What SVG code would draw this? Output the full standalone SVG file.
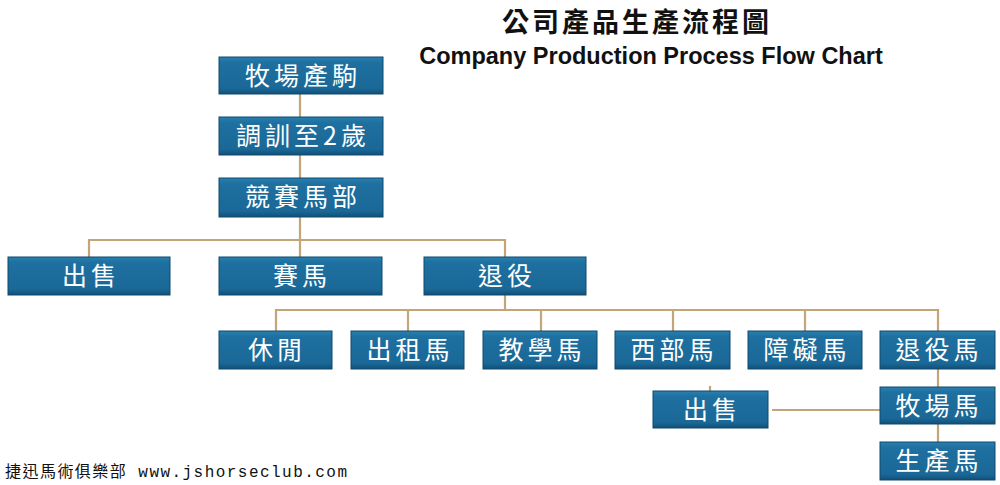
<svg xmlns="http://www.w3.org/2000/svg" width="1000" height="485" viewBox="0 0 1000 485">
<style>
.box{fill:url(#g);stroke:#0f4a6e;stroke-width:1}
.lbl{font-family:"Noto Sans CJK TC","Noto Sans CJK SC",serif;font-size:25px;fill:#ffffff;text-anchor:middle;letter-spacing:4px}
.con{stroke:#c4a57a;stroke-width:2.2;fill:none}
</style>
<defs>
<linearGradient id="g" x1="0" y1="0" x2="0" y2="1">
<stop offset="0" stop-color="#2a80b0"/>
<stop offset="0.15" stop-color="#1e70a0"/>
<stop offset="0.85" stop-color="#1a6897"/>
<stop offset="1" stop-color="#124f78"/>
</linearGradient>
</defs>
<rect width="1000" height="485" fill="#ffffff"/>
<g id="title">
<text x="637" y="32" font-family="Noto Sans CJK TC,Noto Sans CJK SC,sans-serif" font-weight="bold" font-size="27" text-anchor="middle" letter-spacing="3" fill="#111">公司產品生產流程圖</text>
<text x="651" y="64" font-family="Liberation Sans,Arial,sans-serif" font-weight="bold" font-size="23.5" text-anchor="middle" fill="#111">Company Production Process Flow Chart</text>
</g>
<g id="connectors">
<line class="con" x1="300" y1="94" x2="300" y2="117"/>
<line class="con" x1="300" y1="155" x2="300" y2="178"/>
<line class="con" x1="300" y1="217" x2="300" y2="257"/>
<polyline class="con" points="89,257 89,240 505,240 505,257"/>
<line class="con" x1="505" y1="295" x2="505" y2="310"/>
<polyline class="con" points="276,331 276,310 938,310 938,331"/>
<line class="con" x1="408" y1="310" x2="408" y2="331"/>
<line class="con" x1="541" y1="310" x2="541" y2="331"/>
<line class="con" x1="673" y1="310" x2="673" y2="331"/>
<line class="con" x1="805" y1="310" x2="805" y2="331"/>
<line class="con" x1="938" y1="369" x2="938" y2="387"/>
<line class="con" x1="938" y1="424" x2="938" y2="442"/>
<line class="con" x1="772" y1="410" x2="880" y2="410"/>
<line class="con" x1="710" y1="386" x2="710" y2="391" stroke-width="1.2"/>
</g>
<g id="n1"><rect class="box" x="219" y="57" width="164" height="37"/><text class="lbl" x="303" y="85">牧場產駒</text></g>
<g id="n2"><rect class="box" x="219" y="117" width="164" height="38"/><text class="lbl" x="303" y="145">調訓至2歲</text></g>
<g id="n3"><rect class="box" x="219" y="178" width="164" height="39"/><text class="lbl" x="303" y="206">競賽馬部</text></g>
<g id="n4"><rect class="box" x="8" y="257" width="162" height="38"/><text class="lbl" x="91" y="285">出售</text></g>
<g id="n5"><rect class="box" x="219" y="257" width="163" height="38"/><text class="lbl" x="302" y="285">賽馬</text></g>
<g id="n6"><rect class="box" x="424" y="257" width="162" height="38"/><text class="lbl" x="507" y="285">退役</text></g>
<g id="n7"><rect class="box" x="219" y="331" width="113" height="38"/><text class="lbl" x="277" y="359">休閒</text></g>
<g id="n8"><rect class="box" x="351" y="331" width="113" height="38"/><text class="lbl" x="410" y="359">出租馬</text></g>
<g id="n9"><rect class="box" x="483" y="331" width="114" height="38"/><text class="lbl" x="542" y="359">教學馬</text></g>
<g id="n10"><rect class="box" x="615" y="331" width="115" height="38"/><text class="lbl" x="674" y="359">西部馬</text></g>
<g id="n11"><rect class="box" x="748" y="331" width="114" height="38"/><text class="lbl" x="807" y="359">障礙馬</text></g>
<g id="n12"><rect class="box" x="880" y="331" width="115" height="38"/><text class="lbl" x="939" y="359">退役馬</text></g>
<g id="n13"><rect class="box" x="653" y="391" width="115" height="37"/><text class="lbl" x="712" y="419">出售</text></g>
<g id="n14"><rect class="box" x="880" y="387" width="115" height="37"/><text class="lbl" x="939" y="415">牧場馬</text></g>
<g id="n15"><rect class="box" x="880" y="442" width="115" height="38"/><text class="lbl" x="939" y="470">生產馬</text></g>
<g id="footer">
<text x="5" y="477" font-family="Liberation Mono,Noto Sans CJK TC,monospace" font-size="16" fill="#111" textLength="342" lengthAdjust="spacing">捷迅馬術俱樂部 www.jshorseclub.com</text>
</g>
</svg>
